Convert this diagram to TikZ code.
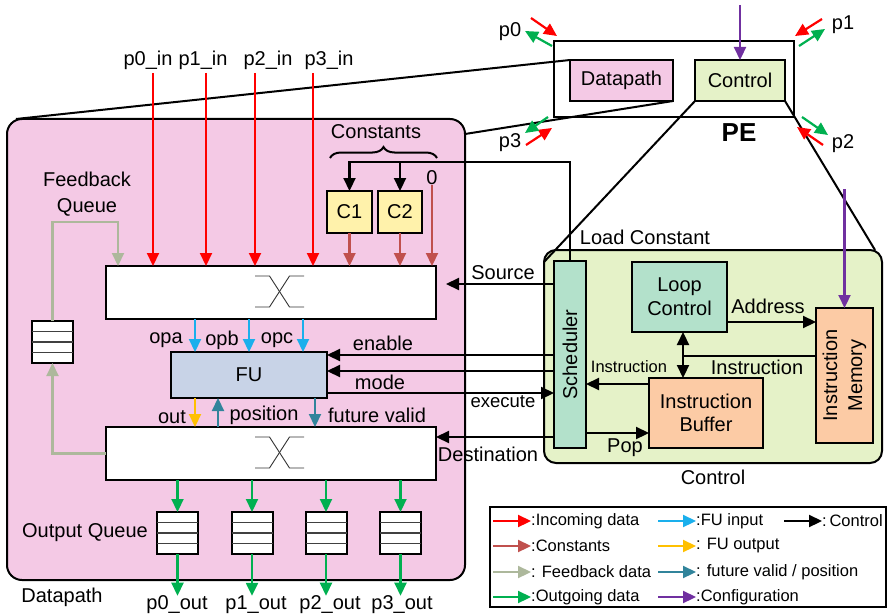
\documentclass[tikz,border=0pt]{standalone}
\usepackage{fontspec}
\setmainfont{Liberation Sans}
\usepackage{tikz}
\usetikzlibrary{positioning,calc,arrows.meta,decorations.pathreplacing}
\definecolor{dppink}{HTML}{F4C9E5}
\definecolor{ctgreen}{HTML}{E5F2C8}
\definecolor{mint}{HTML}{B3E1CB}
\definecolor{peach}{HTML}{FCCBA5}
\definecolor{cyel}{HTML}{FFF2AB}
\definecolor{fublue}{HTML}{C8D3E7}
\definecolor{cin}{HTML}{FF0000}
\definecolor{ccst}{HTML}{C0504D}
\definecolor{cfb}{HTML}{ADB89C}
\definecolor{cout}{HTML}{00B050}
\definecolor{cfuin}{HTML}{1AAFEC}
\definecolor{cfuout}{HTML}{FFC000}
\definecolor{cfv}{HTML}{31849B}
\definecolor{ccfg}{HTML}{7030A0}
\tikzset{
  >={Triangle[length=13pt,width=12pt]},
  blk/.style      = {draw=black, line width=2pt, inner sep=0pt, outer sep=0pt, font=\fontsize{20}{24}\selectfont, align=center},
  dpbox/.style    = {blk, fill=dppink, rounded corners=15pt, minimum width=458pt, minimum height=461pt},
  ctbox/.style    = {blk, fill=ctgreen, rounded corners=12pt, minimum width=338pt, minimum height=213pt},
  smallbox/.style = {blk, minimum height=41pt},
  xbar/.style     = {blk, fill=white, minimum width=330pt, minimum height=53pt},
  cbox/.style     = {blk, fill=cyel, minimum width=44pt, minimum height=42pt},
  queue/.style    = {blk, fill=white, minimum width=41pt, minimum height=42pt},
  qline/.style    = {draw=black!75, line width=1.1pt},
  xline/.style    = {draw=black!80, line width=0.9pt},
  zoomln/.style   = {draw=black, line width=2pt},
  lbl/.style      = {font=\fontsize{20}{24}\selectfont, inner sep=0pt, align=center},
  lbls/.style     = {font=\fontsize{16.5}{19}\selectfont, inner sep=0pt},
  lgd/.style      = {font=\fontsize{16.5}{19}\selectfont, inner sep=0pt, anchor=west},
  arr/.style      = {line width=2.2pt, ->},
  inarr/.style    = {arr, color=cin},
  cstarr/.style   = {arr, color=ccst},
  fbarr/.style    = {arr, color=cfb},
  outarr/.style   = {arr, color=cout},
  fuin/.style     = {arr, color=cfuin},
  fuout/.style    = {arr, color=cfuout},
  fvarr/.style    = {arr, color=cfv},
  cfgarr/.style   = {arr, color=ccfg},
  ctlarr/.style   = {arr, color=black},
  ctl/.style      = {line width=2.2pt, draw=black},
}

\begin{document}
\begin{tikzpicture}[x=1pt,y=-1pt]
  \useasboundingbox (0,0) rectangle (888,615);

  % big boxes
  \node[dpbox] (dp) at (236,349.5) {};
  \node[ctbox] (ct) at (713,356.5) {};
  \node[lbl] (dplbl) at (62,597) {Datapath};
  \node[lbl] (ctlbl) at (713,477) {Control};

  % PE overview
  \node[blk, minimum width=240pt, minimum height=76pt] (pe) at (674,79) {};
  \node[smallbox, fill=dppink, minimum width=103pt] (pedp) at (621.5,80.5) {Datapath};
  \node[smallbox, fill=ctgreen, minimum width=90pt] (pect) at (740,80.5) {Control};
  \node[lbl, font=\fontsize{26}{30}\selectfont\bfseries] (pelbl) at (739,133) {PE};
  \coordinate (cfgpe) at (740,5);
  \draw[cfgarr] (cfgpe) -- (pect.north);

  \draw[zoomln] (pedp.north west) -- ([xshift=9pt]dp.north west);
  \draw[zoomln] (pedp.south east) -- ([yshift=-15pt]dp.north east);
  \draw[zoomln] (pect.south west) -- ([yshift=-12pt]ct.north west);
  \draw[zoomln] (pect.south east) -- ([xshift=-7pt]ct.north east);

  % ports
  \foreach \p/\lx/\ly/\ax/\ay/\bx/\by/\cx/\cy/\dx/\dy in {%
    0/510/32/531/18/557/36/552/46/525/31,
    1/843/25/822/19/795/36/799/46/825/29,
    2/843/144/823/145/797/127/802/117/828/135,
    3/510/143/526/145/552/128/548/117/525/133}
  {
    \node[lbl] (port\p) at (\lx,\ly) {p\p};
    \coordinate (ra) at (\ax,\ay);
    \coordinate (rb) at (\bx,\by);
    \coordinate (ga) at (\cx,\cy);
    \coordinate (gb) at (\dx,\dy);
    \draw[inarr] (ra) -- (rb);
    \draw[outarr] (ga) -- (gb);
  }

  % crossbars
  \node[xbar] (xbarA) at (271,292.5) {};
  \node[xbar] (xbarB) at (271,453.5) {};
  \foreach \b in {xbarA,xbarB} {
    \coordinate (xc) at ($(\b.center)+(8.5,-1)$);
    \draw[xline] ($(xc)+(-24.5,-15.5)$) -- ++(14.5,0) -- ++(20,31) -- ++(14.5,0);
    \draw[xline] ($(xc)+(-24.5,15.5)$) -- ++(14.5,0) -- ++(20,-31) -- ++(14.5,0);
  }

  % inputs
  \foreach \i/\lx/\ax in {0/148/153, 1/203/206, 2/268/255, 3/329/313} {
    \node[lbl] (in\i lbl) at (\lx,60) {p\i\_in};
    \coordinate (in\i) at (\ax,73);
    \draw[inarr] (in\i) -- (in\i |- xbarA.north);
  }

  % constants
  \node[cbox, minimum width=45pt] (c1) at (349.5,212) {C1};
  \node[cbox] (c2) at (400,212) {C2};
  \node[lbl] (zero) at (432,178) {0};
  \node[lbl] (cstlbl) at (376,132) {Constants};
  \draw[ctl, line width=2pt, decorate, decoration={brace, amplitude=11pt}] (330,158) -- (437,158);
  \draw[cstarr] (c1.south) -- (c1.south |- xbarA.north);
  \draw[cstarr] (c2.south) -- (c2.south |- xbarA.north);
  \draw[cstarr] (zero.south) -- (zero.south |- xbarA.north);

  % feedback queue
  \node[queue] (fbq) at (52.5,342) {};
  \node[lbl, font=\fontsize{20}{26}\selectfont] (fblbl) at (87,194) {Feedback\\Queue};
  \coordinate (fbtop) at (118,222);
  \draw[fbarr] (xbarB.west) -| (fbq.south);
  \draw[fbarr] (fbq.north) |- (fbtop) -- (fbtop |- xbarA.north);

  % FU
  \node[blk, fill=fublue, minimum width=156pt, minimum height=46pt] (fu) at (249,375) {FU};
  \foreach \dx/\n/\lx in {-54/a/166, 0/b/222, 54/c/277} {
    \coordinate (op\n) at ($(fu.north)+(\dx,0)$);
    \draw[fuin] (op\n |- xbarA.south) -- (op\n);
    \node[lbl] (op\n lbl) at (\lx,340) {op\n};
  }
  \coordinate (fuo) at ($(fu.south)+(-54,0)$);
  \coordinate (fup) at ($(fu.south)+(-31,0)$);
  \coordinate (fuf) at ($(fu.south)+(66,0)$);
  \draw[fuout] (fuo) -- (fuo |- xbarB.north);
  \draw[fvarr] (fup |- xbarB.north) -- (fup);
  \draw[fvarr] (fuf) -- (fuf |- xbarB.north);
  \node[lbl] (outlbl) at (172,417) {out};
  \node[lbl] (poslbl) at (264,415) {position};
  \node[lbl] (fvlbl) at (377,415) {future valid};

  % output queues
  \foreach \i/\x/\lx in {0/177.5/177, 1/252/256, 2/326/330, 3/400.5/402} {
    \node[queue] (oq\i) at (\x,533) {};
    \node[lbl] (out\i) at (\lx,605) {p\i\_out};
    \draw[outarr] (oq\i.north |- xbarB.south) -- (oq\i.north);
    \draw[outarr] (oq\i.south) -- (oq\i.south |- out\i.north);
  }
  \foreach \q in {fbq,oq0,oq1,oq2,oq3}
    \foreach \f in {0.24,0.5,0.76}
      \draw[qline] ($(\q.north west)!\f!(\q.south west)$) -- ($(\q.north east)!\f!(\q.south east)$);
  \node[lbl] (oqlbl) at (85,533) {Output Queue};

  % control
  \node[blk, fill=mint, minimum width=32pt, minimum height=187pt] (sch) at (570,354.5) {};
  \node[lbl, rotate=90] (schtxt) at (sch) {Scheduler};
  \node[blk, fill=mint, minimum width=95pt, minimum height=70pt] (lc) at (679.5,297) {Loop\\Control};
  \node[blk, fill=peach, minimum width=57pt, minimum height=135pt] (im) at (844.5,375.5) {};
  \node[lbl, rotate=90, font=\fontsize{20}{25}\selectfont] (imtxt) at (im) {Instruction\\Memory};
  \node[blk, fill=peach, minimum width=114pt, minimum height=70pt, font=\fontsize{20}{23}\selectfont] (ib) at (706,413) {Instruction\\Buffer};

  \coordinate (cfgim) at (844.5,189);
  \draw[cfgarr] (cfgim) -- (im.north);
  \coordinate (adr) at ($(lc.east)+(0,25)$);
  \draw[ctlarr] (adr) -- (adr -| im.west);
  \node[lbl] (adrlbl) at (768,306) {Address};
  \coordinate (lcib) at ($(lc.south)+(3.5,0)$);
  \draw[ctlarr, <->] (lcib) -- (lcib |- ib.north);
  \coordinate (imi) at ($(im.west)+(0,-19.5)$);
  \draw[ctl] (imi) -- (imi -| lcib);
  \node[lbl] (imilbl) at (757,367) {Instruction};
  \coordinate (ibi) at ($(ib.west)+(0,-29)$);
  \draw[ctlarr] (ibi) -- (ibi -| sch.east);
  \node[lbls] (ibilbl) at (629,367) {Instruction};
  \coordinate (pop) at ($(ib.west)+(0,20)$);
  \draw[ctlarr] (pop -| sch.east) -- (pop);
  \node[lbl] (poplbl) at (625,448) {Pop};

  % scheduler to datapath
  \coordinate (lcbus) at (570,162);
  \draw[ctlarr] (sch.north) -- (lcbus) -| (c1.north);
  \draw[ctlarr] (lcbus -| c2.north) -- (c2.north);
  \node[lbl] (ldlbl) at (645,237) {Load Constant};
  \coordinate (src) at ($(xbarA.east)+(10,-8.5)$);
  \draw[ctlarr] (src -| sch.west) -- (src);
  \node[lbl] (srclbl) at (503,273) {Source};
  \coordinate (en) at ($(fu.east)+(0,-20)$);
  \coordinate (md) at ($(fu.east)+(0,-4)$);
  \coordinate (ex) at ($(fu.east)+(0,18)$);
  \draw[ctlarr] (en -| sch.west) -- (en);
  \draw[ctlarr] (md -| sch.west) -- (md);
  \draw[ctlarr] (ex) -- (ex -| sch.west);
  \node[lbl] (enlbl) at (383,343) {enable};
  \node[lbl] (mdlbl) at (380,382) {mode};
  \node[lbl, font=\fontsize{18.5}{22}\selectfont] (exlbl) at (503,402) {execute};
  \coordinate (dst) at ($(xbarB.east)+(0,-16.5)$);
  \draw[ctlarr] (dst -| sch.west) -- (dst);
  \node[lbl] (dstlbl) at (488,454) {Destination};

  % legend
  \draw[line width=2pt] (490,507) rectangle (886,607);
  \foreach \st/\x/\y/\t in {%
    inarr/493/521/{:Incoming data}, cstarr/493/546/{:Constants},
    fbarr/493/572/{: Feedback data}, outarr/493/597/{:Outgoing data},
    fuin/658/521/{:FU input}, fuout/658/546/{: FU output},
    fvarr/658/572/{: future valid / position}, cfgarr/658/597/{:Configuration},
    ctlarr/784/521/{:\,Control}}
  {
    \coordinate (lga) at (\x,\y);
    \coordinate (lgb) at (\x+38,\y);
    \draw[\st] (lga) -- (lgb);
    \node[lgd] at (lgb) {\t};
  }
\end{tikzpicture}
\end{document}
